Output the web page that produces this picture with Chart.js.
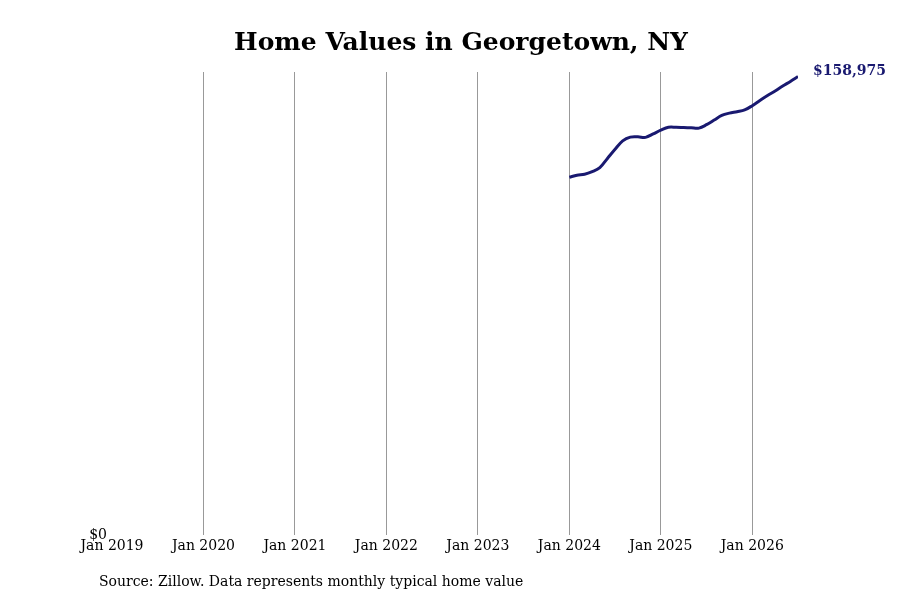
<!DOCTYPE html>
<html>
<head>
<meta charset="utf-8">
<script src="https://cdn.jsdelivr.net/npm/chart.js@4.4.1/dist/chart.umd.min.js"></script>
<style>
  html, body { margin: 0; padding: 0; background: #fff; }
  #wrap { width: 900px; height: 600px; position: relative; }
</style>
</head>
<body>
<div id="wrap"><canvas id="homeChart"></canvas></div>
<script>
// Monthly typical home value
const months = [
    '2024-01', '2024-02', '2024-03', '2024-04', '2024-05', '2024-06',
    '2024-07', '2024-08', '2024-09', '2024-10', '2024-11', '2024-12',
    '2025-01', '2025-02', '2025-03', '2025-04', '2025-05', '2025-06',
    '2025-07', '2025-08', '2025-09', '2025-10', '2025-11', '2025-12',
    '2026-01', '2026-02', '2026-03', '2026-04', '2026-05', '2026-06',
    '2026-07'
];
const homeValues = [
    124100, 124800, 125100, 126000, 127400, 130600,
    133800, 136700, 138000, 138100, 137900, 139100,
    140400, 141400, 141400, 141300, 141200, 141100,
    142300, 143900, 145500, 146300, 146800, 147400,
    148900, 150700, 152400, 154000, 155700, 157300,
    158975
];
const tickYears = [2019, 2020, 2021, 2022, 2023, 2024, 2025, 2026];
const yTicks = [0];

const chartTitle = 'Home Values in Georgetown, NY';
const sourceNote = 'Source: Zillow. Data represents monthly typical home value';
const lineColor = '#191970';
const serif = '"DejaVu Serif", serif';

// convert 'YYYY-MM' to a decimal year for the linear x axis
function toYear(m) {
    const parts = m.split('-');
    return parseInt(parts[0]) + (parseInt(parts[1]) - 1) / 12;
}

const points = months.map((m, i) => ({ x: toYear(m), y: homeValues[i] }));
const xMax = toYear(months[months.length - 1]);
const yMax = Math.max(...homeValues) * 1.01;

function money(v) {
    return '$' + Math.round(v).toLocaleString('en-US');
}

// Title, source line and the end-value label
const textPlugin = {
    id: 'textPlugin',
    afterDraw(chart) {
        const ctx = chart.ctx;
        ctx.save();
        ctx.fillStyle = '#000';
        ctx.font = 'bold 25px ' + serif;
        ctx.textAlign = 'center';
        ctx.textBaseline = 'middle';
        ctx.fillText(chartTitle, 461, 43);

        ctx.font = '14px ' + serif;
        ctx.textAlign = 'left';
        ctx.fillText(sourceNote, 99, 582);

        const meta = chart.getDatasetMeta(0);
        const last = meta.data[meta.data.length - 1];
        ctx.fillStyle = lineColor;
        ctx.font = 'bold 14px ' + serif;
        ctx.fillText(money(homeValues[homeValues.length - 1]), last.x + 15, last.y - 5);
        ctx.restore();
    }
};

const ctx = document.getElementById('homeChart').getContext('2d');
new Chart(ctx, {
    type: 'line',
    data: {
        datasets: [{
            data: points,
            borderColor: lineColor,
            borderWidth: 3,
            pointRadius: 0,
            tension: 0.35,
            fill: false
        }]
    },
    plugins: [textPlugin],
    options: {
        responsive: true,
        maintainAspectRatio: false,
        animation: false,
        layout: {
            padding: { top: 72, right: 102, bottom: 42, left: 0 }
        },
        plugins: {
            legend: { display: false },
            tooltip: { enabled: false }
        },
        scales: {
            x: {
                type: 'linear',
                min: tickYears[0],
                max: xMax,
                afterBuildTicks: axis => {
                    axis.ticks = tickYears.map(v => ({ value: v }));
                },
                ticks: {
                    color: '#000',
                    padding: 3,
                    maxRotation: 0,
                    font: { family: serif, size: 14 },
                    callback: v => 'Jan ' + v
                },
                grid: {
                    drawTicks: false,
                    color: c => (c.tick && c.tick.value === tickYears[0]) ? 'rgba(0,0,0,0)' : '#999',
                    lineWidth: 1
                },
                border: { display: false }
            },
            y: {
                min: 0,
                max: yMax,
                afterBuildTicks: axis => {
                    axis.ticks = yTicks.map(v => ({ value: v }));
                },
                afterFit: axis => {
                    axis.width = 112;
                },
                ticks: {
                    color: '#000',
                    padding: 5,
                    font: { family: serif, size: 14 },
                    callback: v => money(v)
                },
                grid: { display: false, drawTicks: false },
                border: { display: false }
            }
        }
    }
});
</script>
</body>
</html>
